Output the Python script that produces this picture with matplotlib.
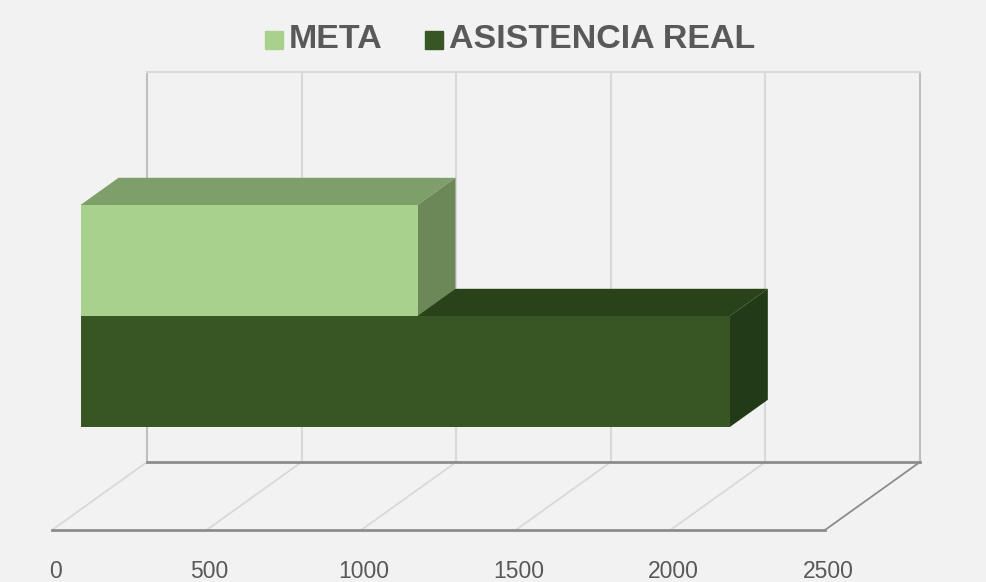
import matplotlib.pyplot as plt
from matplotlib.patches import Polygon, Rectangle

# datos
series = ["META", "ASISTENCIA REAL"]
valores = [1090, 2100]
ticks = [0, 500, 1000, 1500, 2000, 2500]

cara = ["#A9D18E", "#375623"]
techo = ["#7F9F6A", "#2A421A"]
lado = ["#6C8758", "#233A17"]

# proyeccion oblicua en pixeles: x (valor), d (profundidad 0..1), z (alto 0..1)
X0, Y0 = 52, 530
SX = (825 - 52) / 2500
DX, DY = 95, -68
H = 390


def p(x, d, z):
    return (X0 + x * SX + d * DX, Y0 + d * DY - z * H)


fig = plt.figure(figsize=(9.87, 5.82), dpi=100)
fig.patch.set_facecolor("#F2F2F2")
ax = fig.add_axes([0, 0, 1, 1])
ax.set_xlim(0, 987)
ax.set_ylim(582, 0)
ax.axis("off")

xmax = ticks[-1]

# pared del fondo
for t in ticks:
    c = "#BFBFBF" if t in (0, xmax) else "#D9D9D9"
    ax.plot(*zip(p(t, 1, 0), p(t, 1, 1)), color=c, lw=1.5, zorder=1)
ax.plot(*zip(p(0, 1, 1), p(xmax, 1, 1)), color="#D9D9D9", lw=1.5, zorder=1)

# piso
for t in ticks:
    c = "#8C8C8C" if t == xmax else "#D9D9D9"
    ax.plot(*zip(p(t, 0, 0), p(t, 1, 0)), color=c, lw=1.3, zorder=1)
ax.plot(*zip(p(0, 0, 0), p(xmax, 0, 0)), color="#8C8C8C", lw=2, zorder=1)
ax.plot(*zip(p(0, 1, 0), p(xmax, 1, 0)), color="#8C8C8C", lw=2, zorder=1)

for t in ticks:
    x, y = p(t, 0, 0)
    ax.text(x + 3, y + 41, str(t), ha="center", va="center", fontsize=16.5,
            color="#595959", family="Liberation Sans")

# barras
d0, d1 = 0.3, 0.7
alto = 111 / H
base = [0.2118 + alto, 0.2118]
for i in [1, 0]:
    v = valores[i]
    z0 = base[i]
    z1 = z0 + alto
    ax.add_patch(Polygon([p(0, d0, z1), p(v, d0, z1), p(v, d1, z1), p(0, d1, z1)],
                         closed=True, color=techo[i], lw=0, zorder=3 + (1 - i)))
    ax.add_patch(Polygon([p(v, d0, z0), p(v, d1, z0), p(v, d1, z1), p(v, d0, z1)],
                         closed=True, color=lado[i], lw=0, zorder=3 + (1 - i)))
    ax.add_patch(Polygon([p(0, d0, z0), p(v, d0, z0), p(v, d0, z1), p(0, d0, z1)],
                         closed=True, color=cara[i], lw=0, zorder=5))

# leyenda
lx = [265, 425]
for i, s in enumerate(series):
    ax.add_patch(Rectangle((lx[i], 31), 18, 18, color=cara[i], zorder=5))
    ax.text(lx[i] + 24, 40, s, ha="left", va="center", fontsize=24.5,
            fontweight="bold", color="#595959", family="Liberation Sans")

fig.savefig("out.png", dpi=100, facecolor=fig.get_facecolor())
